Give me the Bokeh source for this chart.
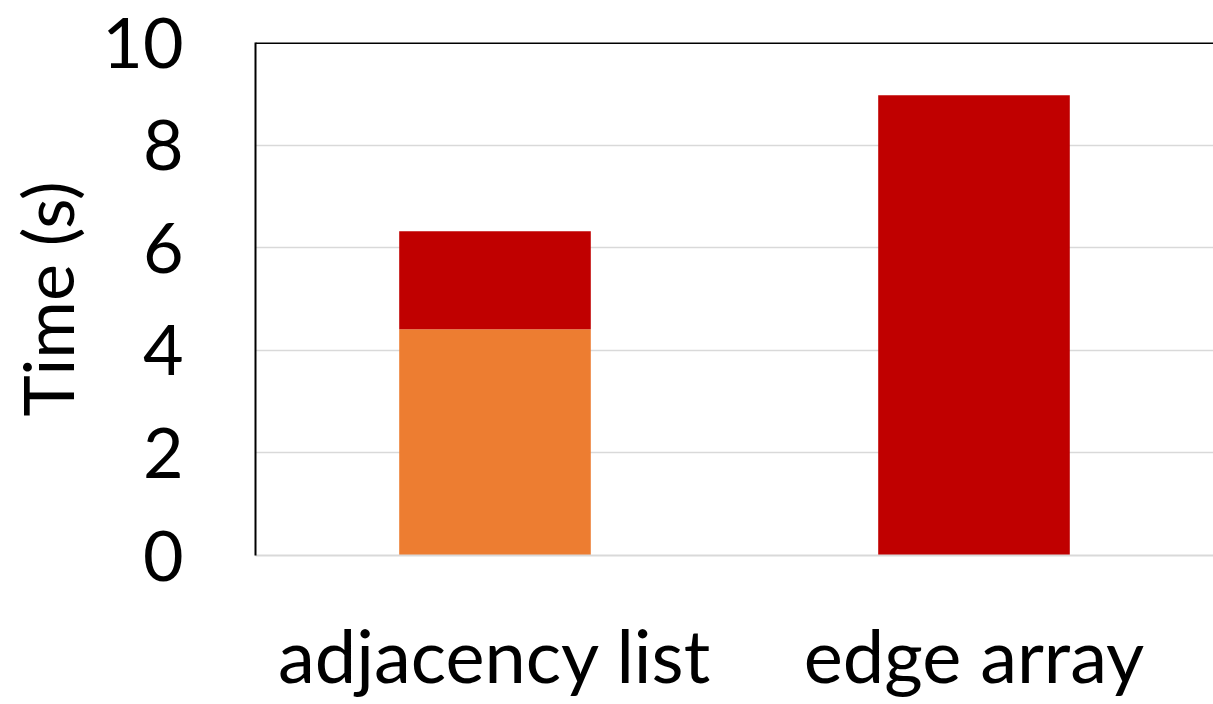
from bokeh.plotting import figure
from bokeh.models import Span, FixedTicker
from bokeh.embed import file_html
from bokeh.resources import INLINE

categories = ["adjacency list", "edge array"]
part_a = [4.41, 0.0]   # orange segment
part_b = [1.91, 8.97]  # red segment
y_ticks = [0, 2, 4, 6, 8, 10]
colors = ["#ED7D31", "#C00000"]

data = {"cat": categories, "a": part_a, "b": part_b}

FONT = "Lato"

p = figure(x_range=categories, y_range=(0, 10), width=1213, height=704,
           output_backend="svg", toolbar_location=None,
           min_border_left=255, min_border_right=0, min_border_top=42, min_border_bottom=149)

p.vbar_stack(["a", "b"], x="cat", width=0.4, color=colors, source=data, line_width=0)

p.outline_line_color = None
p.background_fill_color = "white"
p.border_fill_color = "white"

# y axis
p.yaxis.ticker = FixedTicker(ticks=y_ticks)
p.yaxis.axis_line_color = "black"
p.yaxis.axis_line_width = 2
p.yaxis.major_tick_line_color = None
p.yaxis.minor_tick_line_color = None
p.yaxis.major_tick_out = 0
p.yaxis.major_tick_in = 0
p.yaxis.major_label_standoff = 72
p.yaxis.major_label_text_font = FONT
p.yaxis.major_label_text_font_size = "70px"
p.yaxis.major_label_text_color = "black"
p.yaxis.axis_label = "Time (s)"
p.yaxis.axis_label_text_font = FONT
p.yaxis.axis_label_text_font_size = "70px"
p.yaxis.axis_label_text_font_style = "normal"
p.yaxis.axis_label_text_color = "black"
p.yaxis.axis_label_standoff = 10

# x axis
p.xaxis.axis_line_color = "#d9d9d9"
p.xaxis.axis_line_width = 2
p.xaxis.major_tick_line_color = None
p.xaxis.minor_tick_line_color = None
p.xaxis.major_tick_out = 0
p.xaxis.major_tick_in = 0
p.xaxis.major_label_standoff = 54
p.xaxis.major_label_text_font = FONT
p.xaxis.major_label_text_font_size = "74px"
p.xaxis.major_label_text_color = "black"

p.xgrid.grid_line_color = None
p.ygrid.ticker = FixedTicker(ticks=y_ticks)
p.ygrid.grid_line_color = "#d9d9d9"
p.ygrid.grid_line_width = 1.5

p.add_layout(Span(location=10, dimension="width", line_color="black", line_width=3))

open("out.html", "w").write(file_html(p, INLINE))
